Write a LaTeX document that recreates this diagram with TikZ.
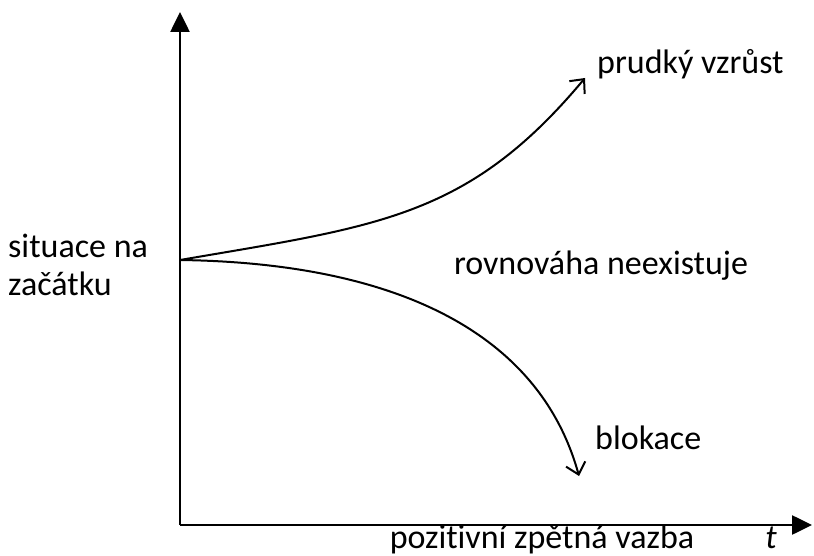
\documentclass[tikz,border=0pt]{standalone}
\usepackage{fontspec}
\setmainfont{Carlito}[Ligatures=NoCommon]
\usetikzlibrary{positioning,arrows.meta}

\begin{document}
\begin{tikzpicture}[
    x=1pt, y=-1pt,
    lbl/.style={inner sep=0pt, font=\fontsize{34}{38}\selectfont},
    axis/.style={line width=2.6pt, -{Triangle[length=20pt, width=19pt]}},
    curve/.style={line width=2pt, -{Straight Barb[length=11pt, width=20pt, line width=2pt]}}
]
\useasboundingbox (0,0) rectangle (814,556);

% Axes
\coordinate (origin) at (180,525);
\coordinate (ytop) at (180,12);
\coordinate (xend) at (812,525);
\draw[axis] (origin) -- (ytop);
\draw[axis] (origin) -- (xend);

% Curves
\coordinate (start) at (180,260);
\coordinate (up) at (585,78);
\coordinate (down) at (579,476);
\draw[curve] (start) .. controls (378,226) and (468,218) .. (up);
\draw[curve] (start) .. controls (400,263) and (540,335) .. (down);

% Labels
\node[lbl, anchor=base west] (growth) at (597,74) {prudký vzrůst};
\node[lbl, anchor=base west] (block) at (595,449) {blokace};
\node[lbl, anchor=base] (noeq) at (601,274) {rovnováha neexistuje};
\node[lbl, anchor=base west, align=left] (init) at (8,295) {situace na\\začátku};
\node[lbl, anchor=base] (feedback) at (542,548) {pozitivní zpětná vazba};
\node[lbl, anchor=base, font=\fontsize{34}{38}\selectfont\itshape] (time) at (771,548) {t};
\end{tikzpicture}
\end{document}
